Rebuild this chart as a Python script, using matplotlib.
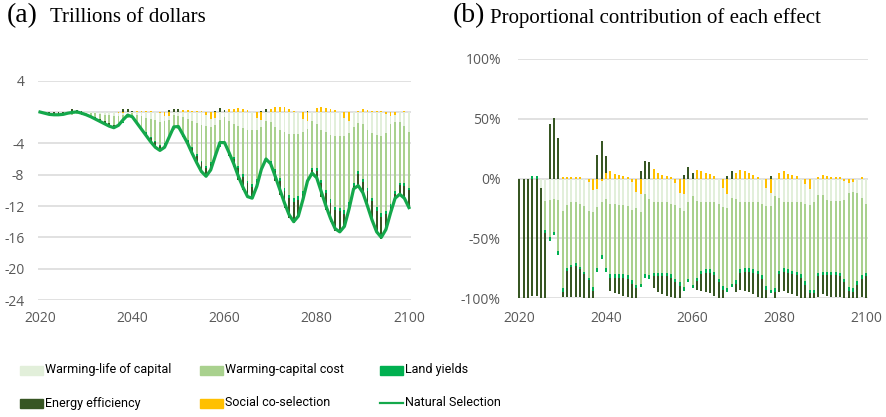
import numpy as np
import matplotlib
matplotlib.use("Agg")
import matplotlib.pyplot as plt
from matplotlib.patches import Rectangle
from matplotlib.lines import Line2D

# ---- data ----
years = list(range(2020, 2101))

# Natural Selection total, trillions of dollars (panel a line)
natural_selection = [
    0.0, -0.15, -0.3, -0.35, -0.35, -0.3, -0.15, -0.05, 0.02, -0.15,
    -0.35, -0.6, -0.9, -1.2, -1.5, -1.8, -2.0, -1.7, -1.0, -0.4,
    -0.6, -1.4, -2.2, -3.0, -3.8, -4.5, -4.9, -4.5, -3.2, -1.9,
    -1.85, -2.9, -4.0, -5.3, -6.5, -7.6, -8.2, -7.4, -5.6, -3.9,
    -3.9, -5.2, -6.6, -8.2, -9.6, -10.8, -11.0, -9.5, -7.3, -6.0,
    -6.6, -8.2, -9.9, -11.6, -13.1, -14.0, -13.3, -11.2, -8.8, -7.8,
    -8.4, -10.2, -12.0, -13.6, -14.9, -15.3, -14.6, -12.4, -9.8, -9.4,
    -10.3, -12.0, -13.8, -15.3, -16.0, -15.0, -12.9, -11.0, -10.5, -11.0,
    -12.2]

# proportional contribution of each effect, % (panel b)
social = [
    0, 0, 0, 0, 0, 0, 0, 0, 0, 0,
    1, 1, 1, 1, 1, 0, -3, -10, -9, -2,
    5, 6, 4, 3, 2, 1, -3, -11, -13, 0,
    0, 8, 5, 3, 2, 1, -4, -12, -13, 0,
    0, 7, 6, 5, 4, 2, 0, -8, -13, 0,
    5, 7, 6, 5, 3, 1, 0, -8, -12, 0,
    5, 6, 4, 3, 2, 0, -5, -9, 0, 1,
    3, 2, 1, 1, 1, -2, -4, -3, 0, 1,
    0]
life_of_capital = [
    0, 0, 0, 0, 0, -8, -19, -18, -17, -18,
    -27, -22, -20, -20, -21, -23, -24, -18, -15, -18,
    -17, -21, -21, -22, -22, -23, -23, -14, -15, -13,
    -17, -20, -20, -20, -20, -21, -18, -13, -14, -20,
    -15, -19, -20, -20, -20, -20, -21, -16, -12, -16,
    -17, -20, -20, -20, -20, -20, -21, -15, -11, -15,
    -16, -20, -20, -20, -20, -20, -16, -13, -20, -14,
    -14, -18, -19, -19, -19, -16, -8, -8, -12, -16,
    -21]
capital_cost = [
    0, 0, 0, 0, 0, 0, -24, -31, -28, -43,
    -65, -53, -52, -51, -53, -55, -56, -63, -51, -44,
    -58, -59, -59, -58, -58, -58, -59, -64, -60, -67,
    -64, -59, -59, -59, -59, -59, -62, -62, -64, -64,
    -74, -64, -57, -56, -56, -58, -63, -66, -67, -72,
    -68, -56, -55, -55, -56, -57, -60, -67, -70, -77,
    -61, -55, -56, -57, -58, -60, -65, -71, -73, -65,
    -64, -60, -59, -59, -60, -66, -79, -81, -74, -65,
    -58]
land_yields = [
    0, 0, 0, 2, 2, 0, -3, -3, -2, -3,
    -3, -2, -2, -2, -2, -2, -2, -3, -3, -3,
    -3, -3, -3, -3, -3, -3, -3, -3, -3, -3,
    -3, -3, -3, -3, -3, -3, -3, -3, -3, -3,
    -3, -3, -3, -3, -3, -3, -3, -3, -3, -3,
    -3, -3, -3, -3, -3, -3, -3, -3, -3, -3,
    -3, -3, -3, -3, -3, -3, -3, -3, -3, -3,
    -3, -3, -3, -3, -3, -3, -3, -3, -3, -3,
    -3]
energy = [
    -100, -100, -100, -98, -98, -92, -54, 46, 51, 34,
    -4, -22, -25, -26, -23, -20, -15, -6, 20, 31,
    14, -11, -13, -14, -15, -15, -12, -8, 6, 15,
    14, -10, -13, -15, -16, -16, -13, -10, 3, 10,
    5, -7, -14, -16, -17, -17, -13, -7, 2, 6,
    -7, -14, -16, -17, -18, -19, -16, -7, 2, -5,
    -15, -16, -17, -17, -17, -17, -11, -4, -4, -17,
    -16, -17, -18, -18, -17, -13, -6, -5, -11, -15,
    -18]

colors = ["#ffc000", "#e2efda", "#a9d18e", "#00b050", "#375623"]
line_color = "#14a84b"
grid_color = "#d9d9d9"
tick_color = "#595959"

W, H = 887, 417


def stacked_bars(ax, x, series, width):
    # excel style stacking: positives up from 0, negatives down from 0
    pos = np.zeros(len(x))
    neg = np.zeros(len(x))
    for vals, c in zip(series, colors):
        v = np.asarray(vals, dtype=float)
        bottom = np.where(v >= 0, pos, neg)
        ax.bar(x, v, width=width, bottom=bottom, color=c, linewidth=0, zorder=2)
        pos = pos + np.where(v > 0, v, 0)
        neg = neg + np.where(v < 0, v, 0)


def style_axis(ax):
    for s in ax.spines.values():
        s.set_visible(False)
    ax.grid(axis="y", color=grid_color, linewidth=1.1, zorder=0)
    ax.set_axisbelow(True)
    ax.tick_params(length=0, labelsize=10, labelcolor=tick_color)
    ax.set_xticks([2020, 2040, 2060, 2080, 2100])
    ax.set_xlim(2019.6, 2100.4)
    for lab in ax.get_xticklabels() + ax.get_yticklabels():
        lab.set_fontfamily("Open Sans")


shares = [social, life_of_capital, capital_cost, land_yields, energy]
share_arr = np.array(shares, dtype=float)
# panel (a) bars: shares scaled so that they add up to the total
gross = np.array(natural_selection) / (share_arr.sum(axis=0) / 100.0)
dollars = share_arr / 100.0 * gross

fig = plt.figure(figsize=(W / 100, H / 100), dpi=100)

# (a) trillions of dollars
ax_a = fig.add_axes([38.2 / W, 1 - 300 / H, 372.6 / W, 219.3 / H])
style_axis(ax_a)
stacked_bars(ax_a, years, dollars, 0.4)
ax_a.plot(years, natural_selection, color=line_color, linewidth=2.3, zorder=3)
ax_a.set_ylim(-24, 4)
ax_a.set_yticks(range(4, -25, -4))
ax_a.set_yticklabels(["4", ""] + [str(v) for v in range(-4, -25, -4)])
ax_a.tick_params(axis="y", pad=10)
ax_a.tick_params(axis="x", pad=8)

# (b) proportional contribution
ax_b = fig.add_axes([517.6 / W, 1 - 298 / H, 350.1 / W, 239 / H])
style_axis(ax_b)
stacked_bars(ax_b, years, shares, 0.45)
ax_b.set_ylim(-100, 100)
ax_b.set_yticks([100, 50, 0, -50, -100])
ax_b.set_yticklabels(["100%", "50%", "0%", "-50%", "-100%"])
ax_b.tick_params(axis="y", pad=12)
ax_b.tick_params(axis="x", pad=9)

# titles
serif = "Liberation Serif"
fig.text(7 / W, 1 - 22.5 / H, "(a)", fontsize=20, family=serif, va="baseline")
fig.text(50 / W, 1 - 22.5 / H, "Trillions of dollars", fontsize=15, family=serif, va="baseline")
fig.text(453 / W, 1 - 22.5 / H, "(b)", fontsize=20, family=serif, va="baseline")
fig.text(490 / W, 1 - 22.5 / H, "Proportional contribution of each effect", fontsize=15,
         family=serif, va="baseline")

# legend, drawn by hand to keep excel's fixed column positions
leg = [("Warming-life of capital", colors[1], 0, 0),
       ("Warming-capital cost", colors[2], 1, 0),
       ("Land yields", colors[3], 2, 0),
       ("Energy efficiency", colors[4], 0, 1),
       ("Social co-selection", colors[0], 1, 1),
       ("Natural Selection", None, 2, 1)]
col_x = [20, 200, 380]
row_y = [370, 403]
for text, c, col, row in leg:
    x, y = col_x[col], row_y[row]
    if c is None:
        fig.add_artist(Line2D([x / W, (x + 23) / W], [1 - y / H, 1 - y / H],
                              color=line_color, linewidth=1.6, transform=fig.transFigure))
    else:
        fig.add_artist(Rectangle((x / W, 1 - (y + 4.5) / H), 23 / W, 9 / H, color=c,
                                 transform=fig.transFigure))
    fig.text((x + 25) / W, 1 - y / H, text, fontsize=9, va="center", family="Roboto")

fig.savefig("out.png", dpi=100)
